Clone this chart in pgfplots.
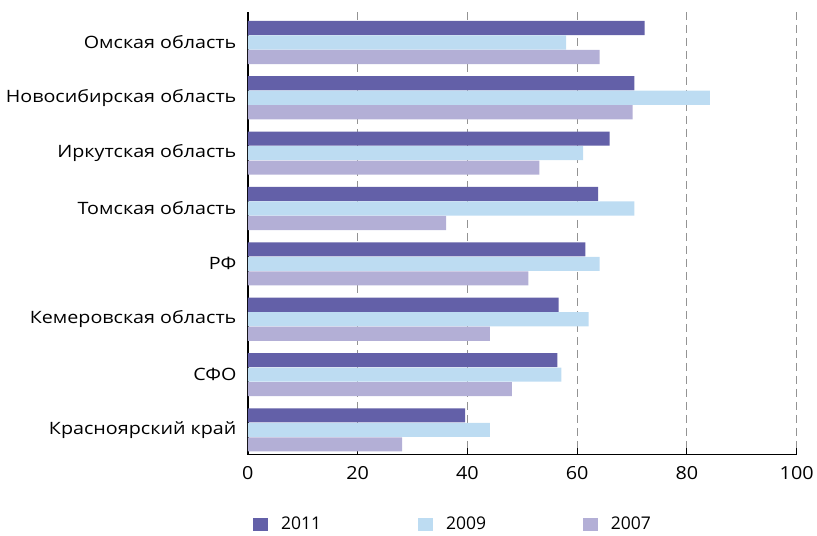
\documentclass[border=0pt]{standalone}
\usepackage{pgfplots}
\pgfplotsset{compat=1.18}
\usepackage{fontspec}
\setmainfont{Open Sans}
\newfontfamily\catfamily{Open Sans}[FakeStretch=1.16]
\newfontfamily\numfamily{Open Sans}[FakeStretch=1.1]

\definecolor{cA}{HTML}{6360A8}
\definecolor{cB}{HTML}{BDDCF2}
\definecolor{cC}{HTML}{B3AFD6}

\newcommand{\catfont}{\catfamily\fontsize{17bp}{20bp}\selectfont}
\newcommand{\numfont}{\numfamily\fontsize{18bp}{21bp}\selectfont}
\newcommand{\legfont}{\fontsize{17.5bp}{20bp}\selectfont}

\begin{document}
\begin{tikzpicture}[font=\catfont]
\begin{axis}[
  at={(0,0)}, anchor=south west,
  scale only axis,
  width=549bp, height=443bp,
  xbar,
  xmin=0, xmax=100,
  ymin=-0.55, ymax=7.45,
  y dir=reverse,
  bar width=0.255,
  xtick={0,20,...,100},
  ytick={0,...,7},
  yticklabels={Омская область,Новосибирская область,Иркутская область,Томская область,РФ,Кемеровская область,СФО,Красноярский край},
  y tick style={draw=none},
  x tick style={draw=black, line width=1.1bp},
  major tick length=7bp,
  tick align=inside,
  yticklabel style={font=\catfont, xshift=-8bp},
  xticklabel style={font=\numfont, yshift=-8bp},
  /pgf/number format/assume math mode=true,
  axis x line*=bottom,
  axis y line*=left,
  axis line style={line width=1.2bp, -},
  xmajorgrids,
  grid style={gray!85, line width=1bp, dash pattern=on 8bp off 5bp},
  legend style={at={(axis description cs:0,0)}, anchor=north west,
    xshift=2bp, yshift=-58bp, draw=none, font=\legfont,
    /tikz/every even column/.append style={column sep=95bp}},
  legend columns=3,
  legend cell align=left,
  legend image code/.code={%
    \fill[#1] (0bp,-6.5bp) rectangle (15bp,6.5bp);
    \path[draw=none, fill=none] (0bp,0bp) -- (26bp,0bp);},
]
\addplot[fill=cA, draw=none, bar shift=-0.262] coordinates {
  (72.3,0) (70.4,1) (65.9,2) (63.8,3) (61.5,4) (56.6,5) (56.4,6) (39.6,7)};
\addplot[fill=cB, draw=none, bar shift=0] coordinates {
  (58.0,0) (84.2,1) (61.1,2) (70.4,3) (64.1,4) (62.1,5) (57.1,6) (44.1,7)};
\addplot[fill=cC, draw=none, bar shift=0.262] coordinates {
  (64.1,0) (70.1,1) (53.1,2) (36.1,3) (51.1,4) (44.1,5) (48.1,6) (28.1,7)};
\legend{2011,2009,2007}
\end{axis}
\path[use as bounding box] (-248bp,-75bp) rectangle (569bp,455bp);
\end{tikzpicture}
\end{document}
